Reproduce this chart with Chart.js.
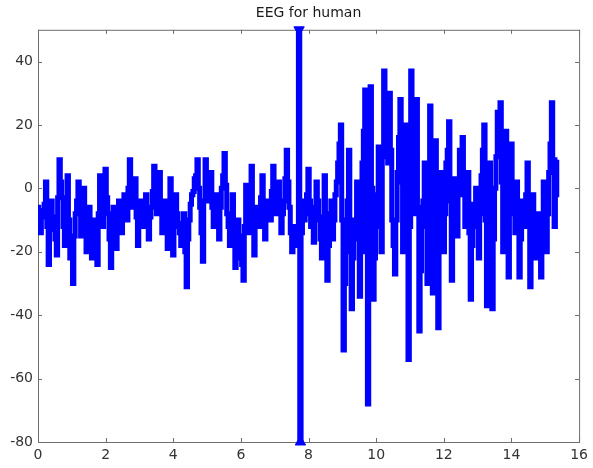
<!DOCTYPE html>
<html>
<head>
<meta charset="utf-8">
<title>EEG for human</title>
<script src="https://cdn.jsdelivr.net/npm/chart.js@4"></script>
<style>
  html, body { margin: 0; padding: 0; background: #fff; }
  #wrap { width: 593px; height: 468px; }
</style>
</head>
<body>
<div id="wrap"><canvas id="eegChart"></canvas></div>
<script>
// sample spacing of the recording (seconds)
const SAMPLE_STEP = 0.04;

// EEG amplitude per sample; the artifact around 7.7 s runs far off the scale
const eegValues = [
  -6, -11, -14, -7, -9, -5, 2, -12, -24, -13, -4, -9, -12, -16, -21, -3, 9, 2, -3, -12, -18, -6, 4, -10, -22, -18,
  -30, -15, -8, -4, 2, -7, -15, -6, 0, -11, -20, -12, -6, -16, -22, -14, -10, -17, -24, -8, 4, -5, -12, -2, 6, -3,
  -8, -16, -25, -12, -6, -13, -19, -9, -4, -10, -14, -6, -2, -7, -10, 0, 9, 1, -6, -2, 3, -9, -18, -10,
  -4, -9, -12, -5, -2, -10, -16, -9, -6, -1, 7, -3, -8, -2, 5, -6, -14, -8, -4, -12, -19, -6, 3, -10, -21, -9,
  -2, -8, -12, -14, -18, -11, -8, -20, -31, -16, -10, -5, -2, -1, 3, 4, 9, 0, -6, -14, -23, -4, 9, 0,
  -4, -1, 5, -6, -12, -6, -2, -9, -16, -6, 0, 4, 11, 1, -8, -12, -18, -9, -2, -14, -25, -17, -10, -15, -22, -24,
  -29, -12, 1, -6, -14, -3, 7, -8, -21, -12, -6, -9, -12, -3, 4, -7, -16, -9, -4, -7, -10, -1, 7, 0,
  -8, -3, 2, -6, -14, -8, -4, 3, 12, 2, -6, -14, -20, -15, -12, -14, -18,
  400, -400,
  -14, -4, -10,
  -8, -2, 6, -4, -12, -8, -17, -6, 2, -4, -10, -16, -22, -9, 4, -12, -29, -18, -8, -4, -16, -10, -2, 2, 8, 14, 20, -10,
  -51, -30, -20, -4, 12, -14, -38, -22, -10, -16, 2, -12, -34, -20, 8, 18, 31, -20, -68, -14, 32, 0, -35, -22, -12, -2,
  13, -6, -20, 10, 37, 26, 22, 8, 30, 12, -10, -18, -27, -10, 5, 16, 28, 2, -20, -4, 20, -16, -54, -12,
  37, 14, -8, 10, 28, -6, -45, -26, -10, -4, 8, -12, -30, -6, 26, 4, -33, -10, 15, -12, -44, -18, 5, -6, -20, -8,
  8, 12, 21, -4, -29, -14, 3, -6, -15, -2, 12, 4, 16, -2, -12, -6, 5, -14, -35, -18, -5, -10, 0, -12,
  -22, -8, 4, 12, 20, -10, -37, -12, 8, -14, -38, -16, 0, 10, 24, 14, 27, 2, -20, -2, 18, -6, -28, -8, 14, 2,
  -8, -14, 2, -12, -28, -16, -4, -8, -12, -2, 8, -10, -31, -16, -2, -10, -22, -14, -8, -18, -28, -10, 2, -6,
  -20, -8, 5, 14, 27, 8, -12, -2, 9
];

const xTicks = [0, 2, 4, 6, 8, 10, 12, 14, 16];
const yTicks = [-80, -60, -40, -20, 0, 20, 40];
const Y_MIN = -80;
const Y_MAX = 50;

const points = eegValues.map((v, i) => ({ x: i * SAMPLE_STEP, y: v }));

// where the trace leaves the axes, mark the edge with a small arrowhead
const offScale = points
  .filter(p => p.y > Y_MAX || p.y < Y_MIN)
  .map(p => ({ x: p.x, y: p.y > Y_MAX ? Y_MAX : Y_MIN, up: p.y > Y_MAX }));

// MATLAB-like box with inward ticks on all four sides
const boxPlugin = {
  id: 'box',
  beforeDatasetsDraw(chart) {
    const { ctx, chartArea: a, scales } = chart;
    ctx.save();
    ctx.strokeStyle = '#6e6e6e';
    ctx.lineWidth = 1;
    ctx.strokeRect(a.left + 0.5, a.top + 0.5, a.right - a.left, a.bottom - a.top);
    ctx.beginPath();
    xTicks.forEach(t => {
      const px = Math.round(scales.x.getPixelForValue(t)) + 0.5;
      ctx.moveTo(px, a.bottom); ctx.lineTo(px, a.bottom - 4);
      ctx.moveTo(px, a.top); ctx.lineTo(px, a.top + 4);
    });
    yTicks.forEach(t => {
      const py = Math.round(scales.y.getPixelForValue(t)) + 0.5;
      ctx.moveTo(a.left, py); ctx.lineTo(a.left + 4, py);
      ctx.moveTo(a.right, py); ctx.lineTo(a.right - 4, py);
    });
    ctx.stroke();
    ctx.restore();
  }
};

new Chart(document.getElementById('eegChart'), {
  type: 'line',
  data: {
    datasets: [{
      label: 'EEG',
      data: points,
      borderColor: '#0000ff',
      borderWidth: 5,
      stepped: 'middle',
      pointRadius: 0,
      fill: false
    }, {
      label: 'clip',
      data: offScale,
      showLine: false,
      clip: false,
      pointStyle: 'triangle',
      pointRadius: 6,
      pointRotation: offScale.map(p => p.up ? 180 : 0),
      backgroundColor: '#0000ff',
      borderColor: '#0000ff',
      borderWidth: 1
    }]
  },
  options: {
    responsive: true,
    maintainAspectRatio: false,
    animation: false,
    layout: { padding: { right: 12, top: 0, left: 0, bottom: 0 } },
    plugins: {
      legend: { display: false },
      tooltip: { enabled: false },
      title: {
        display: true,
        text: 'EEG for human',
        fullSize: false,
        color: '#1a1a1a',
        font: { family: "'DejaVu Sans', sans-serif", size: 14, weight: 'normal' },
        padding: { top: 5, bottom: 8 }
      }
    },
    scales: {
      x: {
        type: 'linear',
        min: 0,
        max: 16,
        afterBuildTicks: s => { s.ticks = xTicks.map(v => ({ value: v })); },
        afterFit: s => { s.height = 26; },
        grid: { display: false, drawTicks: false },
        border: { display: false },
        ticks: {
          padding: 5,
          color: '#333',
          maxRotation: 0,
          font: { family: "'DejaVu Sans', sans-serif", size: 14 }
        }
      },
      y: {
        min: Y_MIN,
        max: Y_MAX,
        afterBuildTicks: s => { s.ticks = yTicks.map(v => ({ value: v })); },
        afterFit: s => { s.width = 38; },
        grid: { display: false, drawTicks: false },
        border: { display: false },
        ticks: {
          padding: 5,
          color: '#333',
          font: { family: "'DejaVu Sans', sans-serif", size: 14 }
        }
      }
    }
  },
  plugins: [boxPlugin]
});
</script>
</body>
</html>
